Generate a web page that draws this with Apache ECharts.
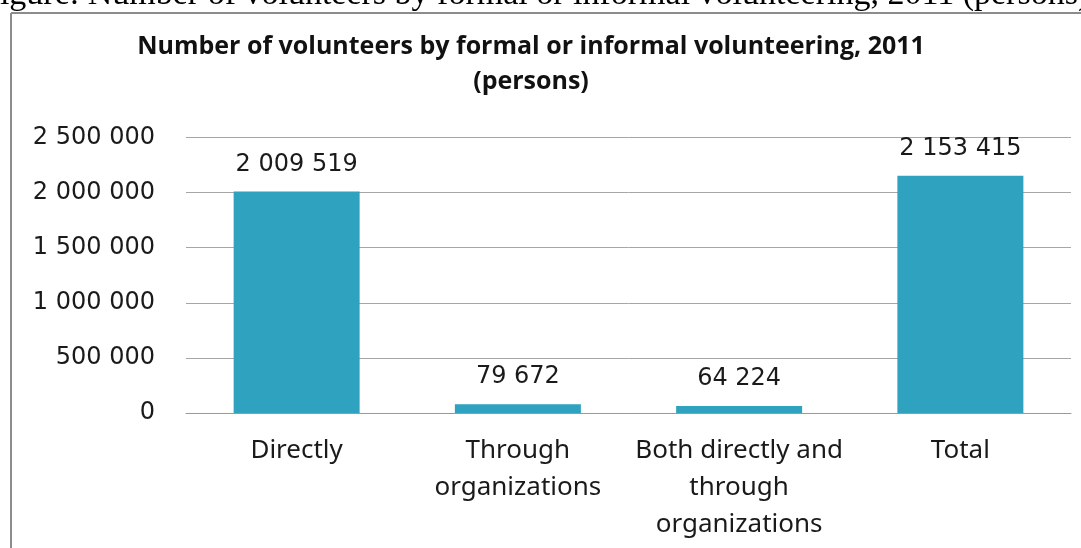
<!DOCTYPE html>
<html>
<head>
<meta charset="utf-8">
<script src="https://cdn.jsdelivr.net/npm/echarts@6/dist/echarts.min.js"></script>
<style>
html,body{margin:0;padding:0;background:#fff;}
#chart{width:1081px;height:548px;}
</style>
</head>
<body>
<div id="chart"></div>
<script>
const caption = 'Figure: Number of volunteers by formal or informal volunteering, 2011 (persons)';
const titleLines = ['Number of volunteers by formal or informal volunteering, 2011', '(persons)'];
const categories = ['Directly', 'Through\norganizations', 'Both directly and\nthrough\norganizations', 'Total'];
const values = [2009519, 79672, 64224, 2153415];
const yTicks = [0, 500000, 1000000, 1500000, 2000000, 2500000];

function fmt(v) {
  return String(Math.round(v)).replace(/\B(?=(\d{3})+(?!\d))/g, ' ');
}

const chart = echarts.init(document.getElementById('chart'), null, {renderer: 'canvas'});
chart.setOption({
  animation: false,
  backgroundColor: '#ffffff',
  title: {
    text: titleLines.join('\n'),
    left: 526,
    top: 24,
    textAlign: 'center',
    textStyle: {
      fontFamily: 'Open Sans',
      fontWeight: 'bold',
      fontSize: 25,
      lineHeight: 35,
      color: '#111'
    }
  },
  graphic: [
    {
      type: 'text', left: -19, top: -22, silent: true,
      style: {text: caption, font: '34px "Liberation Serif"', fill: '#000'}
    },
    {
      type: 'line', silent: true,
      shape: {x1: 11, y1: 13, x2: 1081, y2: 13},
      style: {stroke: '#8c8c8c', lineWidth: 2}
    },
    {
      type: 'line', silent: true,
      shape: {x1: 11, y1: 13, x2: 11, y2: 548},
      style: {stroke: '#8c8c8c', lineWidth: 2}
    }
  ],
  grid: {left: 186, right: 10, top: 137.5, bottom: 135, containLabel: false},
  xAxis: {
    type: 'category',
    data: categories,
    axisTick: {show: false},
    axisLine: {lineStyle: {color: '#999', width: 1}},
    axisLabel: {
      interval: 0,
      margin: 19,
      fontFamily: 'Noto Sans',
      fontSize: 26,
      lineHeight: 37,
      color: '#1a1a1a'
    }
  },
  yAxis: {
    type: 'value',
    min: 0,
    max: 2500000,
    interval: 500000,
    axisLine: {show: false},
    axisTick: {show: false},
    splitLine: {lineStyle: {color: '#a6a6a6', width: 1}},
    axisLabel: {
      margin: 31,
      fontFamily: 'DejaVu Sans',
      fontSize: 24,
      color: '#1a1a1a',
      formatter: fmt
    }
  },
  series: [{
    type: 'bar',
    data: values,
    barWidth: 126,
    itemStyle: {color: '#2ea2bf'},
    label: {
      show: true,
      position: 'top',
      distance: 15,
      fontFamily: 'DejaVu Sans',
      fontSize: 24,
      color: '#1a1a1a',
      formatter: p => fmt(p.value)
    }
  }]
});
</script>
</body>
</html>
